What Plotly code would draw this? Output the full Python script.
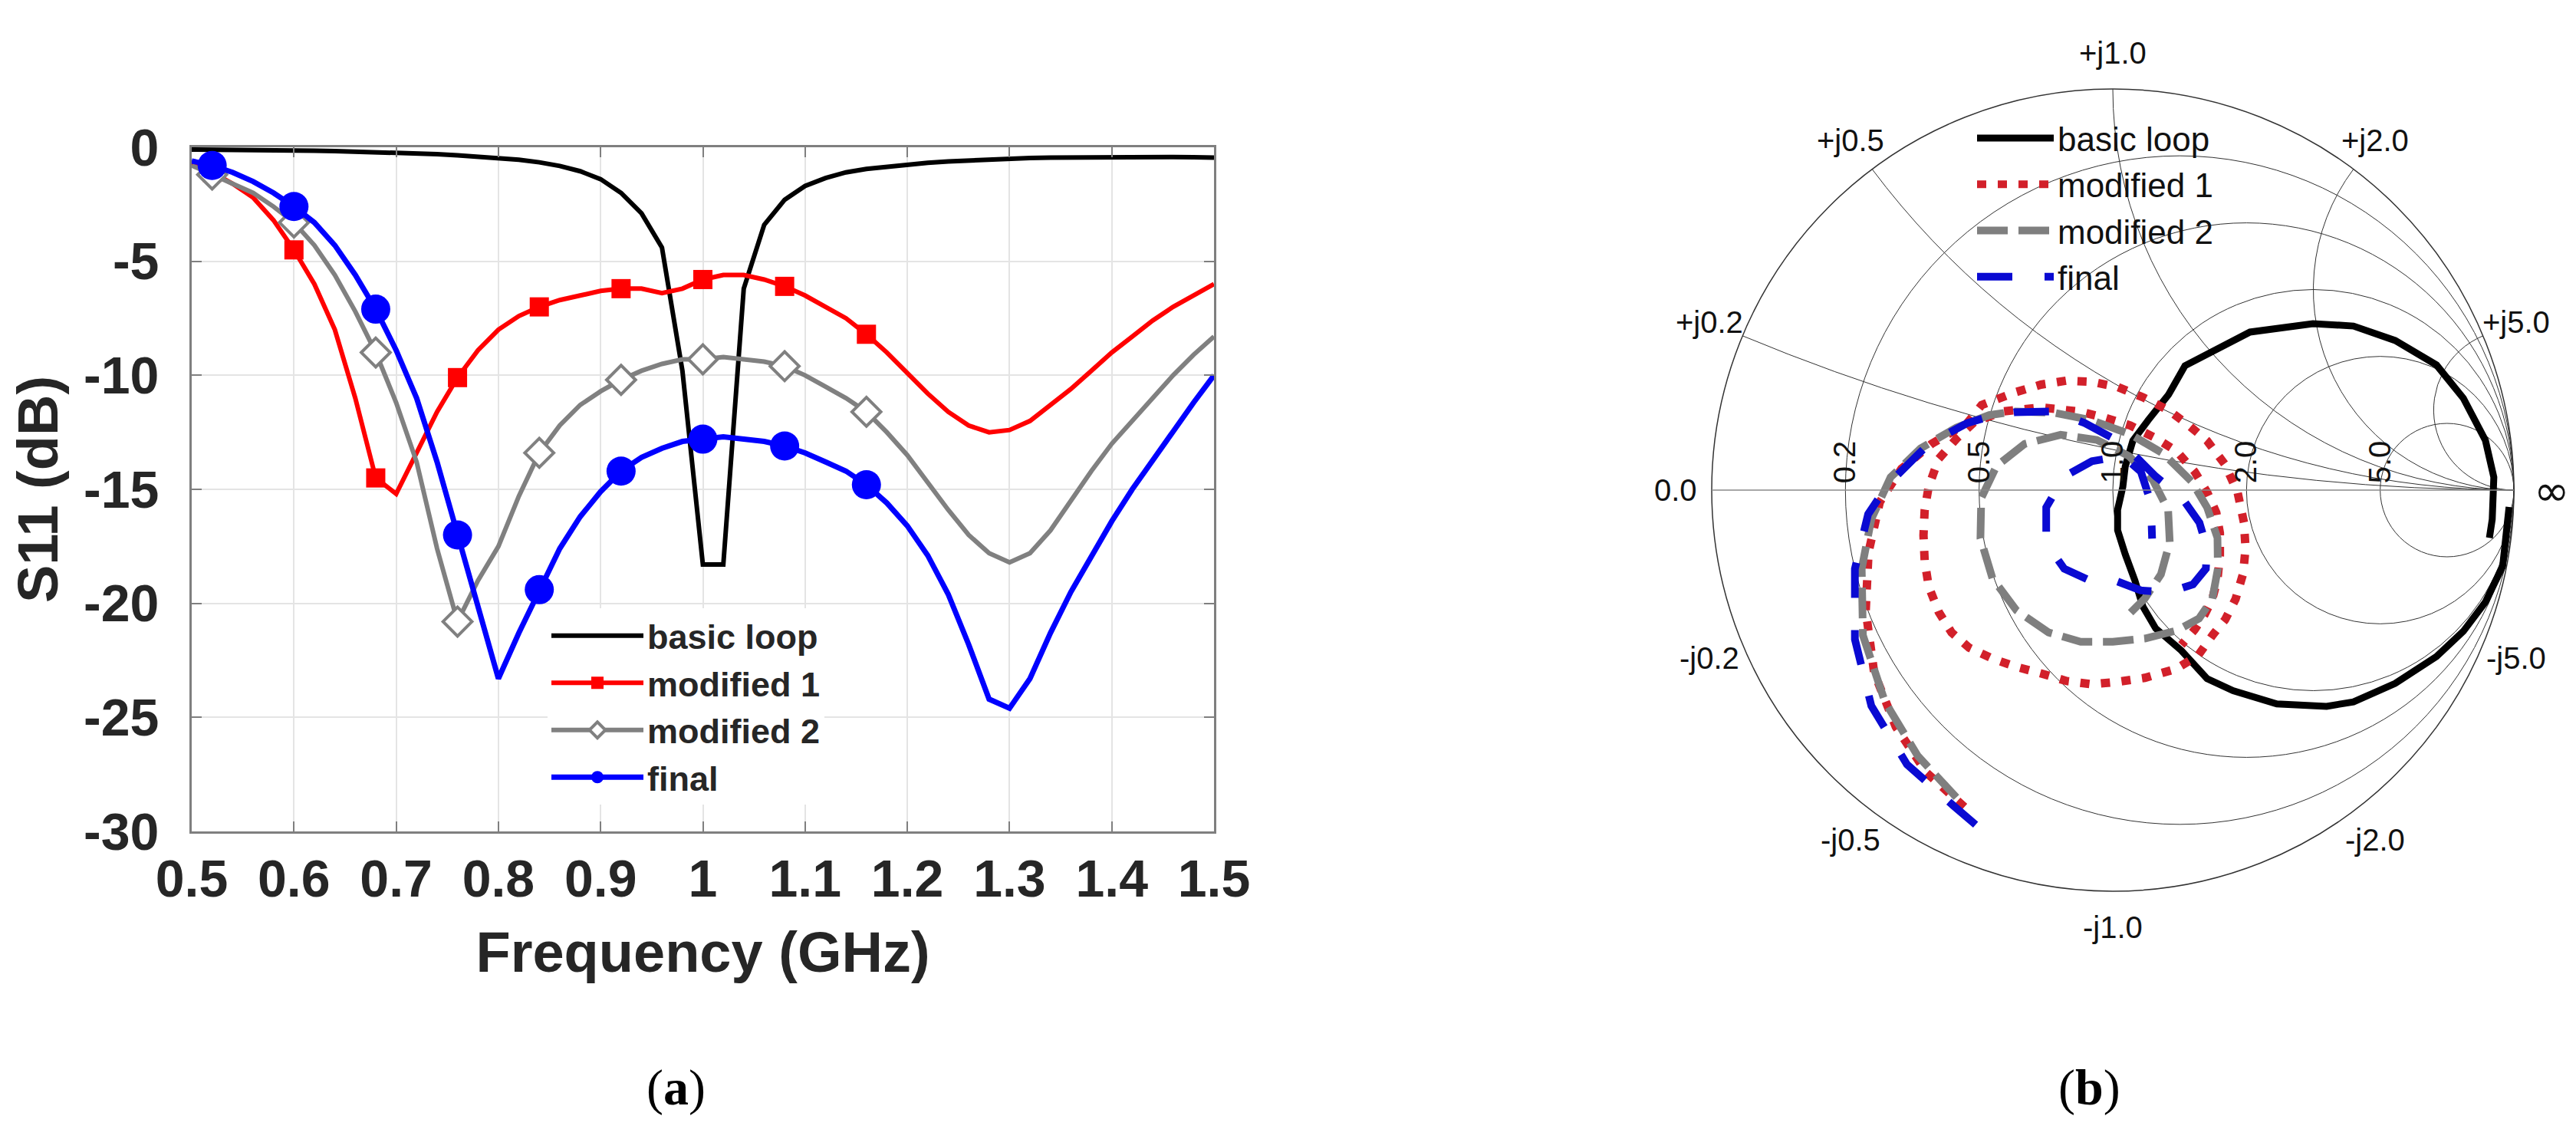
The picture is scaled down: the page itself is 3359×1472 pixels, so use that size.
import numpy as np
import plotly.graph_objects as go

# ---------------- Panel (a): S11 magnitude vs frequency ----------------
freq_ghz = [0.50, 0.52, 0.54, 0.56, 0.58, 0.60, 0.62, 0.64, 0.66, 0.68,
            0.70, 0.72, 0.74, 0.76, 0.78, 0.80, 0.82, 0.84, 0.86, 0.88,
            0.90, 0.92, 0.94, 0.96, 0.98, 1.00, 1.02, 1.04, 1.06, 1.08,
            1.10, 1.12, 1.14, 1.16, 1.18, 1.20, 1.22, 1.24, 1.26, 1.28,
            1.30, 1.32, 1.34, 1.36, 1.38, 1.40, 1.42, 1.44, 1.46, 1.48, 1.50]

s11_basic_db = [-0.10, -0.10, -0.11, -0.12, -0.13, -0.14, -0.15, -0.17, -0.19, -0.21,
                -0.24, -0.27, -0.30, -0.35, -0.40, -0.46, -0.55, -0.66, -0.82, -1.05,
                -1.40, -2.00, -2.90, -4.40, -9.80, -18.3, -18.3, -6.20, -3.40, -2.30,
                -1.70, -1.35, -1.10, -0.95, -0.85, -0.76, -0.68, -0.62, -0.57, -0.53,
                -0.50, -0.47, -0.45, -0.44, -0.43, -0.42, -0.42, -0.42, -0.43, -0.44, -0.45]

s11_mod1_db = [-0.7, -1.1, -1.6, -2.2, -3.2, -4.5, -6.0, -8.0, -11.0, -14.5,
               -15.2, -13.4, -11.6, -10.1, -8.9, -8.0, -7.4, -7.0, -6.7, -6.5,
               -6.3, -6.2, -6.2, -6.4, -6.2, -5.8, -5.6, -5.6, -5.8, -6.1,
               -6.5, -7.0, -7.5, -8.2, -9.0, -9.9, -10.8, -11.6, -12.2, -12.5,
               -12.4, -12.0, -11.3, -10.6, -9.8, -9.0, -8.3, -7.6, -7.0, -6.5, -6.0]

s11_mod2_db = [-0.8, -1.2, -1.6, -2.0, -2.6, -3.3, -4.3, -5.6, -7.2, -9.0,
               -11.2, -13.8, -17.6, -20.8, -19.0, -17.5, -15.3, -13.4, -12.2, -11.3,
               -10.7, -10.2, -9.8, -9.5, -9.3, -9.3, -9.2, -9.3, -9.4, -9.6,
               -10.0, -10.5, -11.0, -11.6, -12.5, -13.5, -14.7, -15.9, -17.0, -17.8,
               -18.2, -17.8, -16.8, -15.5, -14.2, -13.0, -12.0, -11.0, -10.0, -9.1, -8.3]

s11_final_db = [-0.6, -0.8, -1.1, -1.5, -2.0, -2.6, -3.3, -4.3, -5.6, -7.1,
                -8.9, -11.0, -13.8, -17.0, -20.3, -23.3, -21.3, -19.4, -17.6, -16.2,
                -15.1, -14.2, -13.6, -13.2, -12.9, -12.8, -12.7, -12.8, -12.9, -13.1,
                -13.4, -13.8, -14.2, -14.8, -15.6, -16.6, -17.9, -19.6, -21.8, -24.2,
                -24.6, -23.3, -21.3, -19.5, -17.9, -16.4, -15.0, -13.7, -12.4, -11.2, -10.0]

marker_freqs = [0.52, 0.60, 0.68, 0.76, 0.84, 0.92, 1.00, 1.08, 1.16]

x_tick_vals = [0.5, 0.6, 0.7, 0.8, 0.9, 1.0, 1.1, 1.2, 1.3, 1.4, 1.5]
x_tick_text = ["0.5", "0.6", "0.7", "0.8", "0.9", "1", "1.1", "1.2", "1.3", "1.4", "1.5"]
y_tick_vals = [0, -5, -10, -15, -20, -25, -30]
y_tick_text = ["0", "-5", "-10", "-15", "-20", "-25", "-30"]

series_names = ["basic loop", "modified 1", "modified 2", "final"]

# ---------------- Panel (b): S11 (reflection coefficient) on Smith chart ----------------
gamma_basic_re = [0.988, 0.972, 0.929, 0.874, 0.807, 0.704, 0.600, 0.533, 0.409, 0.300,
                  0.235, 0.171, 0.107, 0.075, 0.055, 0.031, 0.012, 0.012, 0.025, 0.031,
                  0.050, 0.088, 0.139, 0.180, 0.342, 0.499, 0.600, 0.704, 0.807, 0.874,
                  0.929, 0.950, 0.946, 0.939]
gamma_basic_im = [-0.042, -0.190, -0.279, -0.352, -0.415, -0.482, -0.528, -0.539, -0.533, -0.500,
                  -0.470, -0.400, -0.345, -0.290, -0.225, -0.160, -0.100, -0.049, 0.008, 0.059,
                  0.123, 0.174, 0.238, 0.310, 0.394, 0.415, 0.409, 0.373, 0.312, 0.229,
                  0.124, 0.032, -0.073, -0.119]

gamma_mod1_re = [-0.370, -0.465, -0.541, -0.595, -0.616, -0.609, -0.581, -0.527, -0.452, -0.363,
                 -0.327, -0.243, -0.179, -0.115, -0.052, 0.012, 0.076, 0.139, 0.190, 0.235,
                 0.279, 0.311, 0.327, 0.331, 0.325, 0.306, 0.280, 0.250, 0.212, 0.157,
                 0.080, 0.012, -0.052, -0.115, -0.179, -0.243, -0.300, -0.358, -0.402, -0.434,
                 -0.459, -0.469, -0.472, -0.469, -0.459, -0.434, -0.389, -0.345, -0.274, -0.179,
                 -0.083, -0.019, 0.044, 0.108, 0.159, 0.204, 0.235, 0.258, 0.267, 0.267,
                 0.261, 0.248, 0.229, 0.204, 0.171]
gamma_mod1_im = [-0.790, -0.704, -0.590, -0.455, -0.300, -0.155, -0.030, 0.053, 0.115, 0.167,
                 0.212, 0.244, 0.263, 0.273, 0.270, 0.257, 0.231, 0.199, 0.161, 0.123,
                 0.065, -0.005, -0.081, -0.145, -0.208, -0.272, -0.323, -0.360, -0.413, -0.446,
                 -0.468, -0.478, -0.484, -0.476, -0.457, -0.440, -0.420, -0.393, -0.355, -0.304,
                 -0.240, -0.177, -0.113, -0.049, 0.009, 0.078, 0.129, 0.170, 0.196, 0.206,
                 0.196, 0.180, 0.161, 0.129, 0.097, 0.046, -0.005, -0.056, -0.107, -0.164,
                 -0.222, -0.272, -0.310, -0.348, -0.386]

gamma_mod2_re = [-0.390, -0.486, -0.568, -0.623, -0.626, -0.602, -0.554, -0.479, -0.390, -0.308,
                 -0.243, -0.147, -0.052, 0.044, 0.126, 0.197, 0.235, 0.261, 0.262, 0.248,
                 0.215, 0.160, 0.080, 0.000, -0.080, -0.160, -0.240, -0.300, -0.330, -0.328,
                 -0.290, -0.220, -0.130, -0.040, 0.040, 0.100, 0.138, 0.142, 0.120, 0.080, 0.040]
gamma_mod2_im = [-0.766, -0.663, -0.528, -0.362, -0.196, -0.072, 0.032, 0.104, 0.156, 0.187,
                 0.196, 0.193, 0.174, 0.139, 0.091, 0.021, -0.043, -0.119, -0.196, -0.272,
                 -0.320, -0.350, -0.370, -0.378, -0.378, -0.355, -0.300, -0.220, -0.120, -0.020,
                 0.060, 0.115, 0.138, 0.125, 0.085, 0.025, -0.050, -0.130, -0.210, -0.270, -0.310]

gamma_final_re = [-0.342, -0.397, -0.513, -0.602, -0.643, -0.643, -0.610, -0.560, -0.459, -0.363,
                  -0.295, -0.245, -0.147, -0.070, 0.012, 0.063, 0.107, 0.171, 0.216, 0.235,
                  0.232, 0.200, 0.140, 0.070, 0.012, -0.039, -0.121, -0.166, -0.166, -0.121,
                  -0.052, 0.025, 0.070, 0.095, 0.098]
gamma_final_im = [-0.834, -0.787, -0.684, -0.538, -0.372, -0.196, -0.060, 0.015, 0.115, 0.167,
                  0.187, 0.194, 0.196, 0.167, 0.123, 0.078, 0.034, -0.017, -0.081, -0.145,
                  -0.196, -0.235, -0.255, -0.250, -0.228, -0.234, -0.196, -0.132, -0.043, 0.034,
                  0.072, 0.085, 0.046, -0.031, -0.121]

smith_real_ticks = [0.2, 0.5, 1.0, 2.0, 5.0]
smith_imag_ticks = [0.2, 0.5, 1.0, 2.0, 5.0]

# ---------------- figure ----------------
W, H = 3359, 1472
BOLD_FONT = "Liberation Sans, Arial, sans-serif"
TXT = "#262626"

# Smith chart placement (pixels)
SM_CX, SM_CY, SM_R = 2747, 631, 523


def gamma_to_z(re, im):
    g = np.array(re) + 1j * np.array(im)
    z = (1 + g) / (1 - g)
    return z.real.tolist(), z.imag.tolist()


sel_idx = [i for i, f in enumerate(freq_ghz) if any(abs(f - m) < 1e-9 for m in marker_freqs)]

fig = go.Figure()

styles_a = [
    dict(color="#000000", width=6, marker=None),
    dict(color="#ff0000", width=6, marker=dict(symbol="square", size=25, color="#ff0000")),
    dict(color="#808080", width=6, marker=dict(symbol="diamond", size=29, color="white",
                                               line=dict(color="#808080", width=4))),
    dict(color="#0000ff", width=7, marker=dict(symbol="circle", size=38, color="#0000ff")),
]
values_a = [s11_basic_db, s11_mod1_db, s11_mod2_db, s11_final_db]

for name, vals, st in zip(series_names, values_a, styles_a):
    if st["marker"] is None:
        fig.add_trace(go.Scatter(x=freq_ghz, y=vals, name=name, mode="lines",
                                 line=dict(color=st["color"], width=st["width"]),
                                 legend="legend"))
    else:
        fig.add_trace(go.Scatter(x=freq_ghz, y=vals, name=name, mode="lines+markers",
                                 line=dict(color=st["color"], width=st["width"]),
                                 marker=st["marker"],
                                 selectedpoints=sel_idx,
                                 selected=dict(marker=dict(opacity=1)),
                                 unselected=dict(marker=dict(opacity=0)),
                                 legend="legend"))

styles_b = [
    dict(color="#000000", width=9, dash="solid"),
    dict(color="#d2202a", width=11, dash="12px,15px"),
    dict(color="#7f7f7f", width=10, dash="40px,14px"),
    dict(color="#0a0ad2", width=10, dash="46px,42px"),
]
gammas = [(gamma_basic_re, gamma_basic_im), (gamma_mod1_re, gamma_mod1_im),
          (gamma_mod2_re, gamma_mod2_im), (gamma_final_re, gamma_final_im)]
for name, (gr, gi), st in zip(series_names, gammas, styles_b):
    zr, zi = gamma_to_z(gr, gi)
    fig.add_trace(go.Scattersmith(real=zr, imag=zi, name=name, mode="lines",
                                  line=dict(color=st["color"], width=st["width"], dash=st["dash"]),
                                  legend="legend2"))

# panel (a) axes
fig.update_layout(
    xaxis=dict(domain=[242 / W, 1575 / W], range=[0.5, 1.5], tickvals=x_tick_vals, ticktext=x_tick_text,
               showgrid=True, gridcolor="#e4e4e4", gridwidth=2, zeroline=False,
               showline=True, linecolor="#7f7f7f", linewidth=3, mirror="ticks",
               ticks="inside", ticklen=13, tickwidth=2, tickcolor="#7f7f7f",
               tickfont=dict(family=BOLD_FONT, size=68, color=TXT, weight=700),
               ticklabelstandoff=0,
               title=dict(text="Frequency (GHz)", standoff=34,
                          font=dict(family=BOLD_FONT, size=74, color=TXT, weight=700)),
               automargin=False),
    yaxis=dict(domain=[1 - 1076 / H, 1 - 184 / H], range=[-30, 0], tickvals=y_tick_vals, ticktext=y_tick_text,
               showgrid=True, gridcolor="#e4e4e4", gridwidth=2, zeroline=False,
               showline=True, linecolor="#7f7f7f", linewidth=3, mirror="ticks",
               ticks="inside", ticklen=13, tickwidth=2, tickcolor="#7f7f7f",
               tickfont=dict(family=BOLD_FONT, size=68, color=TXT, weight=700),
               ticklabelstandoff=26,
               title=dict(text="S11 (dB)", standoff=30,
                          font=dict(family=BOLD_FONT, size=74, color=TXT, weight=700)),
               automargin=False),
)

# panel (b) smith chart
fig.update_layout(
    smith=dict(
        domain=dict(x=[(SM_CX - SM_R) / W, (SM_CX + SM_R) / W],
                    y=[1 - (SM_CY + SM_R) / H, 1 - (SM_CY - SM_R) / H]),
        bgcolor="white",
        realaxis=dict(tickvals=smith_real_ticks, tickformat=".1f", tickangle=-90,
                      gridcolor="#333333", gridwidth=1.3, linecolor="#8a8a8a", linewidth=1.5,
                      showline=True, ticks="", tickfont=dict(family=BOLD_FONT, size=40, color="#111")),
        imaginaryaxis=dict(tickvals=smith_imag_ticks, tickformat=".1f", showticklabels=False,
                           gridcolor="#333333", gridwidth=1.3, linecolor="#333333", linewidth=1.5,
                           showline=True, ticks=""),
    )
)

# reactance labels around the Smith chart rim (+jX above, -jX below), plus both real-axis ends
annots = []
LBL_R = 1.09 * SM_R
rim_font = dict(family=BOLD_FONT, size=40, color="#111")
for v in smith_imag_ticks:
    theta = np.pi - 2 * np.arctan(v)  # angle of Gamma for z = jv on the unit circle
    for sign, prefix in ((1, "+j"), (-1, "-j")):
        px = SM_CX + LBL_R * np.cos(theta)
        py = SM_CY - sign * LBL_R * np.sin(theta)
        annots.append(dict(text=f"{prefix}{v:.1f}", x=px / W, y=1 - py / H, xref="paper", yref="paper",
                           xanchor="center", yanchor="middle", showarrow=False, font=rim_font))
annots.append(dict(text="0.0", x=(SM_CX - LBL_R) / W, y=1 - SM_CY / H, xref="paper", yref="paper",
                   xanchor="center", yanchor="middle", showarrow=False, font=rim_font))
annots.append(dict(text="∞", x=(SM_CX + 1.095 * SM_R) / W, y=1 - SM_CY / H, xref="paper", yref="paper",
                   xanchor="center", yanchor="middle", showarrow=False,
                   font=dict(family="DejaVu Sans, sans-serif", size=56, color="#111")))
annots.append(dict(text="(<b>a</b>)", x=874 / W, y=1 - 1410 / H, xref="paper", yref="paper",
                   xanchor="center", yanchor="middle", showarrow=False,
                   font=dict(family="Liberation Serif, serif", size=66, color="#000")))
annots.append(dict(text="(<b>b</b>)", x=2716 / W, y=1 - 1410 / H, xref="paper", yref="paper",
                   xanchor="center", yanchor="middle", showarrow=False,
                   font=dict(family="Liberation Serif, serif", size=66, color="#000")))

fig.update_layout(
    width=W, height=H, margin=dict(l=0, r=0, t=0, b=0, autoexpand=False),
    paper_bgcolor="white", plot_bgcolor="white",
    font=dict(family=BOLD_FONT, color=TXT),
    showlegend=True,
    legend=dict(x=706 / W, y=1 - 785 / H, xanchor="left", yanchor="top",
                bgcolor="white", borderwidth=0, itemwidth=120, tracegroupgap=0,
                font=dict(family=BOLD_FONT, size=45, color=TXT, weight=700)),
    legend2=dict(x=2565 / W, y=1 - 137 / H, xanchor="left", yanchor="top",
                 bgcolor="rgba(0,0,0,0)", borderwidth=0, itemwidth=100, tracegroupgap=0,
                 font=dict(family=BOLD_FONT, size=44, color="#111")),
    annotations=annots,
)

fig.write_html("out.html")
